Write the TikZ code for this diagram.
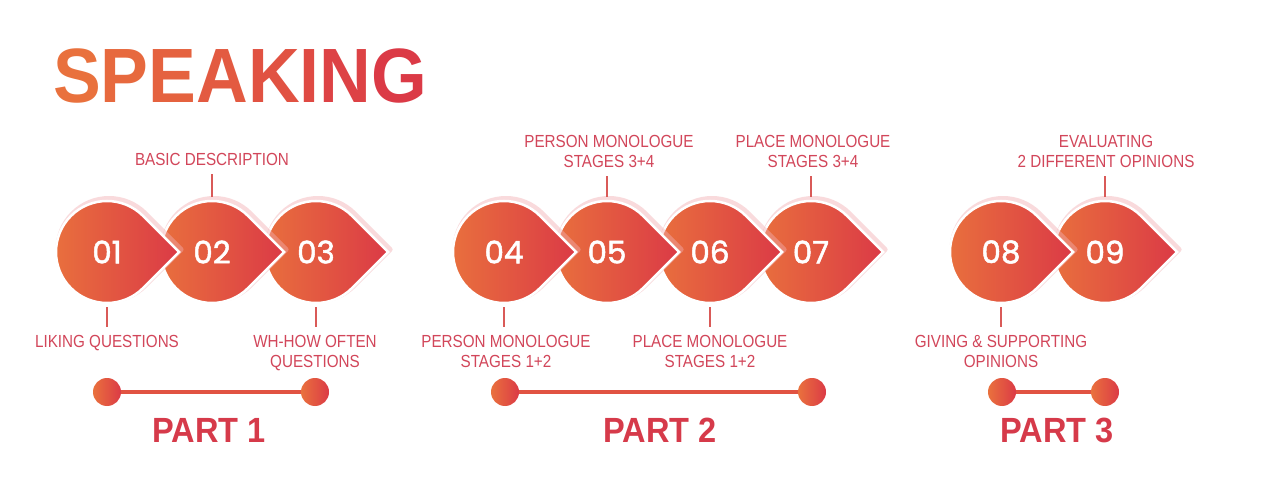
\documentclass[tikz,border=0pt]{standalone}
\usepackage{fontspec}
\usepackage{xcolor}
\setmainfont{Liberation Sans}
\newfontfamily\labfont{Liberation Sans}[FakeStretch=0.87]
\newfontfamily\headfont{Liberation Sans}[FakeStretch=0.93]
\newfontfamily\numfont{Poppins}[FakeBold=1.6]
\definecolor{dropL}{HTML}{E9713D}
\definecolor{dropR}{HTML}{DB3A46}
\definecolor{labc}{HTML}{D2465A}
\definecolor{tickc}{HTML}{D95A58}
\definecolor{partc}{HTML}{D63A4A}
\definecolor{glowc}{HTML}{F2AEB2}
\tikzset{
dropglow/.style={draw=glowc, line width=5pt, opacity=0.45, line join=round},
dropfill/.style={left color=dropL, right color=dropR, draw=white, line width=2.5pt, line join=miter},
dropnum/.style={circle, minimum size=102pt, inner sep=0pt, text=white, font=\numfont\fontsize{31}{31}\selectfont},
lab/.style={inner sep=0pt, align=center, text=labc, font=\labfont\fontsize{17.5}{20}\selectfont},
tick/.style={draw=tickc, line width=1.3pt, shorten <=4pt, shorten >=8pt},
dot/.style={circle, minimum size=28pt, inner sep=0pt, left color=dropL, right color=dropR},
partline/.style={draw=dropL!45!dropR, line width=4pt},
parttxt/.style={inner sep=0pt, anchor=north, text=partc, font=\headfont\bfseries\fontsize{35}{35}\selectfont}
}
% #1 = centre x, #2 = node name, #3 = number
\newcommand{\drop}[3]{
\draw[dropglow] (#1+74.1,227.5) -- (#1+38.06,263.56) arc[start angle=45,end angle=315,radius=51pt] -- cycle;
\draw[dropfill] (#1+72.1,225) -- (#1+36.06,261.06) arc[start angle=45,end angle=315,radius=51pt] -- cycle;
\node[dropnum] (#2) at (#1,225) {#3};
}
\begin{document}
\begin{tikzpicture}[x=1pt,y=1pt]
\fill[white] (0,0) rectangle (1280,477);
\useasboundingbox (0,0) rectangle (1280,477);

\node[inner sep=0pt, anchor=base west, font=\headfont\bfseries\fontsize{77}{77}\selectfont] (title) at (53,374)
{\textcolor{dropL}{S}\textcolor{dropR!14!dropL}{P}\textcolor{dropR!28!dropL}{E}\textcolor{dropR!42!dropL}{A}\textcolor{dropR!56!dropL}{K}\textcolor{dropR!70!dropL}{I}\textcolor{dropR!85!dropL}{N}\textcolor{dropR}{G}};

% part 1
\drop{316}{s03}{03}
\drop{212}{s02}{02}
\drop{107}{s01}{01}

\node[lab, anchor=north] (l02) at (212,324) {BASIC DESCRIPTION};
\node[lab, anchor=north] (l01) at (107,142) {LIKING QUESTIONS};
\node[lab, anchor=north] (l03) at (315,142) {WH-HOW OFTEN\\QUESTIONS};
\draw[tick] (s02.north) -- (s02.north |- l02.south);
\draw[tick] (s01.south) -- (s01.south |- l01.north);
\draw[tick] (s03.south) -- (s03.south |- l03.north);

\node[dot] (p1a) at (107,85) {};
\node[dot] (p1b) at (315,85) {};
\draw[partline] (p1a) -- (p1b);
\node[parttxt] (t1) at (209,59) {PART 1};

% part 2
\drop{811}{s07}{07}
\drop{710}{s06}{06}
\drop{607}{s05}{05}
\drop{504}{s04}{04}

\node[lab, anchor=north] (l05) at (609,342) {PERSON MONOLOGUE\\STAGES 3+4};
\node[lab, anchor=north] (l07) at (813,342) {PLACE MONOLOGUE\\STAGES 3+4};
\node[lab, anchor=north] (l04) at (506,142) {PERSON MONOLOGUE\\STAGES 1+2};
\node[lab, anchor=north] (l06) at (710,142) {PLACE MONOLOGUE\\STAGES 1+2};
\draw[tick] (s05.north) -- (s05.north |- l05.south);
\draw[tick] (s07.north) -- (s07.north |- l07.south);
\draw[tick] (s04.south) -- (s04.south |- l04.north);
\draw[tick] (s06.south) -- (s06.south |- l06.north);

\node[dot] (p2a) at (505,85) {};
\node[dot] (p2b) at (812,85) {};
\draw[partline] (p2a) -- (p2b);
\node[parttxt] (t2) at (660,59) {PART 2};

% part 3
\drop{1105}{s09}{09}
\drop{1001}{s08}{08}

\node[lab, anchor=north] (l09) at (1106,342) {EVALUATING\\2 DIFFERENT OPINIONS};
\node[lab, anchor=north] (l08) at (1001,142) {GIVING \& SUPPORTING\\OPINIONS};
\draw[tick] (s09.north) -- (s09.north |- l09.south);
\draw[tick] (s08.south) -- (s08.south |- l08.north);

\node[dot] (p3a) at (1002,85) {};
\node[dot] (p3b) at (1105,85) {};
\draw[partline] (p3a) -- (p3b);
\node[parttxt] (t3) at (1057,59) {PART 3};

\end{tikzpicture}
\end{document}
